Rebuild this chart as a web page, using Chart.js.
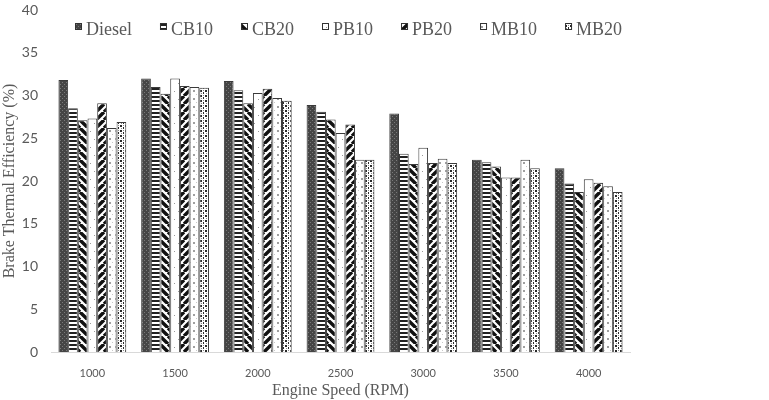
<!DOCTYPE html>
<html>
<head>
<meta charset="utf-8">
<script src="https://cdn.jsdelivr.net/npm/chart.js@4.4.1/dist/chart.umd.min.js"></script>
<style>
  html, body { margin: 0; padding: 0; background: #fff; }
</style>
</head>
<body>
<canvas id="chart" width="769" height="400"></canvas>
<script>
// Engine speeds (x categories)
const speeds = ['1000', '1500', '2000', '2500', '3000', '3500', '4000'];

// Brake thermal efficiency (%) per fuel
const diesel = [31.8, 32.0, 31.7, 28.9, 27.9, 22.5, 21.5];
const cb10   = [28.5, 31.0, 30.6, 28.1, 23.2, 22.2, 19.7];
const cb20   = [27.1, 30.2, 29.1, 27.2, 22.0, 21.7, 18.7];
const pb10   = [27.3, 32.0, 30.3, 25.6, 23.9, 20.4, 20.2];
const pb20   = [29.1, 31.1, 30.8, 26.6, 22.1, 20.4, 19.8];
const mb10   = [26.2, 31.0, 29.7, 22.5, 22.6, 22.5, 19.4];
const mb20   = [26.9, 30.9, 29.4, 22.5, 22.1, 21.5, 18.7];

const fuelNames = ['Diesel', 'CB10', 'CB20', 'PB10', 'PB20', 'MB10', 'MB20'];
const yMin = 0, yMax = 40, yStep = 5;

const serif = '"Liberation Serif", "Times New Roman", serif';
const sans = 'Lato, "Open Sans", sans-serif';
const textGray = '#595959';

// small helper to build fill patterns like the Excel hatch fills
function makePattern(w, h, draw) {
  const c = document.createElement('canvas');
  c.width = w; c.height = h;
  const p = c.getContext('2d');
  p.fillStyle = '#fff';
  p.fillRect(0, 0, w, h);
  draw(p, w, h);
  return document.getElementById('chart').getContext('2d').createPattern(c, 'repeat');
}

function diag(p, s, dir, width) {
  p.strokeStyle = '#111';
  p.lineWidth = width;
  p.beginPath();
  for (let k = -1; k <= 1; k++) {
    if (dir > 0) { // "/"
      p.moveTo(k * s, s); p.lineTo(k * s + s, 0);
    } else {       // "\"
      p.moveTo(k * s, 0); p.lineTo(k * s + s, s);
    }
  }
  p.stroke();
}

const patterns = [
  // Diesel: dark dotted
  makePattern(4, 4, (p) => {
    p.fillStyle = '#454545'; p.fillRect(0, 0, 4, 4);
    p.fillStyle = '#7a7a7a'; p.fillRect(0, 0, 1, 1); p.fillRect(2, 2, 1, 1);
  }),
  // CB10: horizontal lines
  makePattern(4, 4, (p) => {
    p.fillStyle = '#222'; p.fillRect(0, 0, 4, 2);
  }),
  // CB20: wide downward diagonal
  makePattern(8, 8, (p) => diag(p, 8, -1, 3.4)),
  // PB10: sparse dots
  makePattern(8, 16, (p) => {
    p.fillStyle = '#9a9a9a'; p.fillRect(2, 3, 1, 1); p.fillRect(6, 11, 1, 1);
  }),
  // PB20: wide upward diagonal
  makePattern(8, 8, (p) => diag(p, 8, 1, 3.4)),
  // MB10: small dot marks
  makePattern(6, 8, (p) => {
    p.fillStyle = '#a0a0a0'; p.fillRect(1, 2, 2, 2);
    p.fillStyle = '#c8c8c8'; p.fillRect(4, 6, 1, 1);
  }),
  // MB20: confetti
  makePattern(5, 5, (p) => {
    p.fillStyle = '#2a2a2a';
    p.fillRect(0, 0, 2, 2); p.fillRect(3, 2, 1, 2);
    p.fillStyle = '#888';
    p.fillRect(3, 0, 1, 1); p.fillRect(1, 3, 1, 1);
  })
];

const seriesValues = [diesel, cb10, cb20, pb10, pb20, mb10, mb20];

// legend drawn by hand so the spacing matches the original
const patternLegend = {
  id: 'patternLegend',
  afterDraw(chart) {
    const ctx = chart.ctx;
    ctx.save();
    ctx.font = '18px ' + serif;
    ctx.textBaseline = 'alphabetic';
    let x = 75;
    chart.data.datasets.forEach(ds => {
      ctx.fillStyle = ds.backgroundColor;
      ctx.fillRect(x, 23, 7, 7);
      ctx.strokeStyle = '#333';
      ctx.lineWidth = 1;
      ctx.strokeRect(x + 0.5, 23.5, 6, 6);
      ctx.fillStyle = textGray;
      ctx.fillText(ds.label, x + 11, 35);
      x += 11 + ctx.measureText(ds.label).width + 28;
    });
    ctx.restore();
  }
};

new Chart(document.getElementById('chart'), {
  type: 'bar',
  data: {
    labels: speeds,
    datasets: seriesValues.map((vals, i) => ({
      label: fuelNames[i],
      data: vals,
      backgroundColor: patterns[i],
      borderColor: '#3a3a3a',
      borderWidth: 1,
      barPercentage: 1,
      categoryPercentage: 0.82
    }))
  },
  options: {
    responsive: false,
    animation: false,
    layout: { padding: { left: 0, right: 139, top: 0, bottom: 0 } },
    plugins: {
      legend: { display: false },
      tooltip: { enabled: false }
    },
    scales: {
      x: {
        grid: { display: false },
        border: { display: true, color: '#d9d9d9', width: 1 },
        ticks: { color: textGray, font: { family: sans, size: 11 }, padding: 7, maxRotation: 0 },
        title: {
          display: true,
          text: 'Engine Speed (RPM)',
          color: textGray,
          font: { family: serif, size: 16 },
          padding: { top: 0, bottom: 0 }
        },
        afterFit: (scale) => { scale.height = 48; }
      },
      y: {
        min: yMin,
        max: yMax,
        grid: { display: false },
        border: { display: false },
        ticks: { stepSize: yStep, color: textGray, font: { family: sans, size: 14 }, padding: 5 },
        title: {
          display: true,
          text: 'Brake Thermal Efficiency (%)',
          color: textGray,
          font: { family: serif, size: 16 },
          padding: { top: 0, bottom: 0 }
        },
        afterFit: (scale) => { scale.width = 51; scale.paddingTop = 10; }
      }
    }
  },
  plugins: [patternLegend]
});
</script>
</body>
</html>
